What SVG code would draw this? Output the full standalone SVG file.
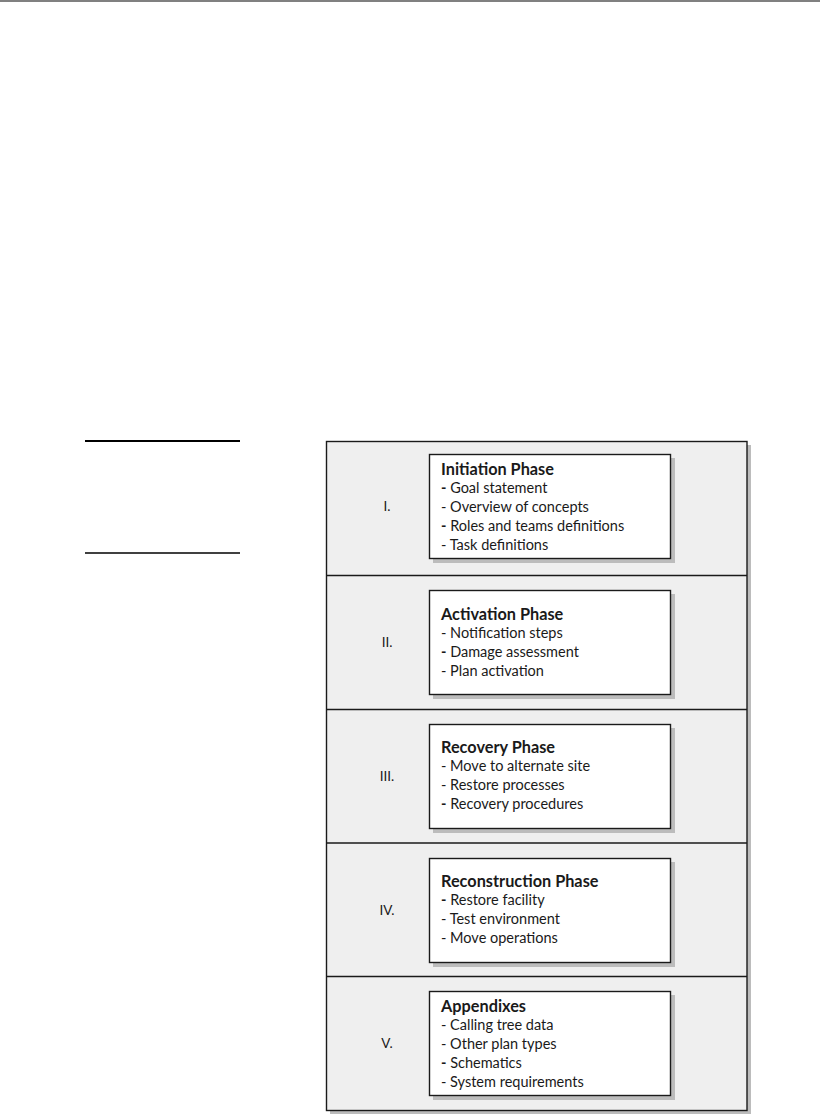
<svg xmlns="http://www.w3.org/2000/svg" width="827" height="1115" viewBox="0 0 827 1115">
<style>
.t{font-family:Lato,"Liberation Sans",sans-serif;font-size:14.5px;fill:#1a1a1a}
.b{font-weight:bold}
.h{font-family:Lato,"Liberation Sans",sans-serif;font-size:16.3px;font-weight:bold;fill:#1a1a1a}
.n{font-family:Lato,"Liberation Sans",sans-serif;font-size:13.5px;fill:#1a1a1a;text-anchor:middle}
.box{fill:#fff;stroke:#1a1a1a;stroke-width:1.4}
.sh{fill:#bcbcbc}
.sep{stroke:#1a1a1a;stroke-width:1.3}
</style>
<rect width="827" height="1115" fill="#fff"/>
<line x1="0" y1="1" x2="820" y2="1" stroke="#808080" stroke-width="2.2"/>
<line x1="85" y1="441" x2="240" y2="441" stroke="#000" stroke-width="2"/>
<line x1="85" y1="553" x2="240" y2="553" stroke="#000" stroke-width="1.4"/>
<g id="panel">
<rect x="330" y="445" width="421" height="669" class="sh"/>
<rect x="326.5" y="441.5" width="420.5" height="669" fill="#efefef" stroke="#1a1a1a" stroke-width="1.4"/>
</g>
<g id="separators">
<line x1="326.5" y1="575.5" x2="747" y2="575.5" class="sep"/>
<line x1="326.5" y1="709.5" x2="747" y2="709.5" class="sep"/>
<line x1="326.5" y1="843" x2="747" y2="843" class="sep"/>
<line x1="326.5" y1="976.5" x2="747" y2="976.5" class="sep"/>
</g>
<g id="phase1">
<rect x="433" y="458" width="242" height="105" class="sh"/>
<rect x="429.5" y="454.5" width="241" height="104" class="box"/>
<text class="n" x="387" y="511">I.</text>
<text class="h" x="441" y="474.5">Initiation Phase</text>
<text class="t" x="441" y="493"><tspan class="b">-</tspan> Goal statement</text>
<text class="t" x="441" y="512">- Overview of concepts</text>
<text class="t" x="441" y="531"><tspan class="b">-</tspan> Roles and teams definitions</text>
<text class="t" x="441" y="550">- Task definitions</text>
</g>
<g id="phase2">
<rect x="433" y="594" width="242" height="105" class="sh"/>
<rect x="429.5" y="590.5" width="241" height="104" class="box"/>
<text class="n" x="387" y="647">II.</text>
<text class="h" x="441" y="619.5">Activation Phase</text>
<text class="t" x="441" y="638">- Notification steps</text>
<text class="t" x="441" y="657"><tspan class="b">-</tspan> Damage assessment</text>
<text class="t" x="441" y="676">- Plan activation</text>
</g>
<g id="phase3">
<rect x="433" y="728" width="242" height="105" class="sh"/>
<rect x="429.5" y="724.5" width="241" height="104" class="box"/>
<text class="n" x="387" y="781">III.</text>
<text class="h" x="441" y="752.5">Recovery Phase</text>
<text class="t" x="441" y="771">- Move to alternate site</text>
<text class="t" x="441" y="790">- Restore processes</text>
<text class="t" x="441" y="809"><tspan class="b">-</tspan> Recovery procedures</text>
</g>
<g id="phase4">
<rect x="433" y="862" width="242" height="105" class="sh"/>
<rect x="429.5" y="858.5" width="241" height="104" class="box"/>
<text class="n" x="387" y="915">IV.</text>
<text class="h" x="441" y="886.5">Reconstruction Phase</text>
<text class="t" x="441" y="905"><tspan class="b">-</tspan> Restore facility</text>
<text class="t" x="441" y="924">- Test environment</text>
<text class="t" x="441" y="943">- Move operations</text>
</g>
<g id="phase5">
<rect x="433" y="995" width="242" height="105" class="sh"/>
<rect x="429.5" y="991.5" width="241" height="104" class="box"/>
<text class="n" x="387" y="1048">V.</text>
<text class="h" x="441" y="1011.5">Appendixes</text>
<text class="t" x="441" y="1030">- Calling tree data</text>
<text class="t" x="441" y="1049">- Other plan types</text>
<text class="t" x="441" y="1068"><tspan class="b">-</tspan> Schematics</text>
<text class="t" x="441" y="1087">- System requirements</text>
</g>
</svg>
